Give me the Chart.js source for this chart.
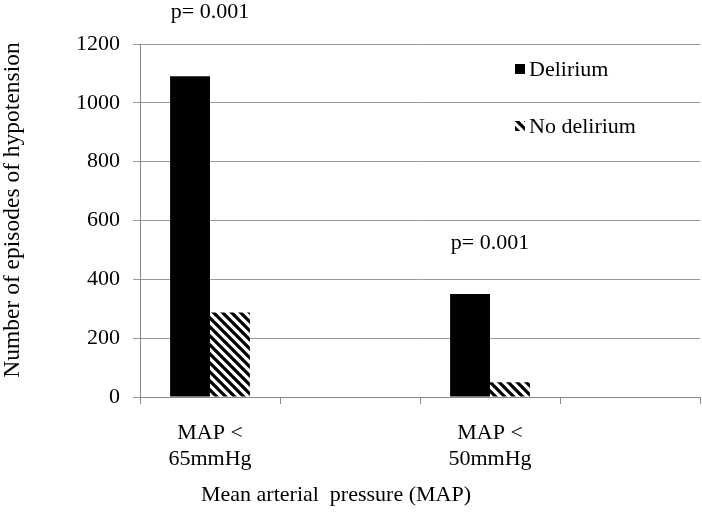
<!DOCTYPE html>
<html>
<head>
<meta charset="utf-8">
<script src="https://cdn.jsdelivr.net/npm/chart.js@4.4.1/dist/chart.umd.min.js"></script>
<style>
  html, body { margin: 0; padding: 0; background: #fff; }
  #wrap { width: 702px; height: 512px; }
</style>
</head>
<body>
<div id="wrap"><canvas id="mapChart" width="702" height="512"></canvas></div>
<script>
// data
let categories = [['MAP <', '65mmHg'], '', ['MAP <', '50mmHg'], ''];
let deliriumArr = [1090, null, 350, null];
let noDeliriumArr = [287, null, 50, null];
let pValues = ['p= 0.001', null, 'p= 0.001', null];
let yTicks = [0, 200, 400, 600, 800, 1000, 1200];

const serif = 'Liberation Serif';

// diagonal hatch for the "No delirium" bars
function makeHatch() {
    const s = 9;
    const c = document.createElement('canvas');
    c.width = s; c.height = s;
    const g = c.getContext('2d');
    g.fillStyle = '#fff';
    g.fillRect(0, 0, s, s);
    g.strokeStyle = '#000';
    g.lineWidth = 3.2;
    g.beginPath();
    for (let k = -1; k <= 1; k++) {
        g.moveTo(k * s - 1, -1);
        g.lineTo(k * s + s + 1, s + 1);
    }
    g.stroke();
    return g.createPattern(c, 'repeat');
}

// legend, p-values and axis titles drawn as text
const extraText = {
    id: 'extraText',
    afterDatasetsDraw(chart) {
        const c = chart.ctx;
        const xs = chart.scales.x;
        const ys = chart.scales.y;
        c.save();
        c.fillStyle = '#000';
        c.font = '22px "' + serif + '"';
        c.textAlign = 'center';
        c.textBaseline = 'middle';
        // p-values
        c.fillText(pValues[0], xs.getPixelForValue(0), 12);
        c.fillText(pValues[2], xs.getPixelForValue(2), ys.getPixelForValue(522));
        // x axis title
        c.fillText('Mean arterial  pressure (MAP)', 336, 495);
        // y axis title
        c.save();
        c.translate(13, 210);
        c.rotate(-Math.PI / 2);
        c.font = '23.5px "' + serif + '"';
        c.fillText('Number of episodes of hypotension', 0, 0);
        c.restore();
        // legend
        c.textAlign = 'left';
        const items = [
            { label: 'Delirium', fill: '#000', y: 69 },
            { label: 'No delirium', fill: chart.data.datasets[1].backgroundColor, y: 126 }
        ];
        items.forEach(it => {
            c.fillStyle = it.fill;
            c.fillRect(515, it.y - 5, 10, 10);
            c.fillStyle = '#000';
            c.fillText(it.label, 529, it.y + 1);
        });
        c.restore();
    }
};

function drawChart() {
    const hatch = makeHatch();
    const ctx = document.getElementById('mapChart').getContext('2d');
    const mapChart = new Chart(ctx, {
        type: 'bar',
        data: {
            labels: categories,
            datasets: [{
                label: 'Delirium',
                data: deliriumArr,
                backgroundColor: '#000',
                borderWidth: 0
            },
            {
                label: 'No delirium',
                data: noDeliriumArr,
                backgroundColor: hatch,
                borderWidth: 0
            }]
        },
        plugins: [extraText],
        options: {
            responsive: false,
            animation: false,
            layout: {
                padding: { top: 44, right: 2, left: 0, bottom: 0 }
            },
            datasets: {
                bar: { categoryPercentage: 0.57, barPercentage: 1.0 }
            },
            scales: {
                x: {
                    afterFit(axis) { axis.height = 115; },
                    grid: {
                        offset: true,
                        drawOnChartArea: false,
                        color: '#888',
                        tickLength: 7
                    },
                    border: { color: '#888' },
                    ticks: {
                        color: '#000',
                        maxRotation: 0,
                        padding: 17,
                        font: { family: serif, size: 22, lineHeight: 1.15 }
                    }
                },
                y: {
                    min: 0,
                    max: 1200,
                    afterFit(axis) { axis.width = 140; },
                    afterBuildTicks(axis) { axis.ticks = yTicks.map(v => ({ value: v })); },
                    grid: { color: '#999', tickLength: 7 },
                    border: { color: '#888' },
                    ticks: {
                        color: '#000',
                        padding: 13,
                        font: { family: serif, size: 22 },
                        callback: v => String(v)
                    }
                }
            },
            plugins: {
                legend: { display: false },
                tooltip: { enabled: false }
            }
        }
    });
}

// make sure the serif face is ready before the first paint
document.fonts.load('22px "' + serif + '"').then(drawChart, drawChart);
</script>
</body>
</html>
